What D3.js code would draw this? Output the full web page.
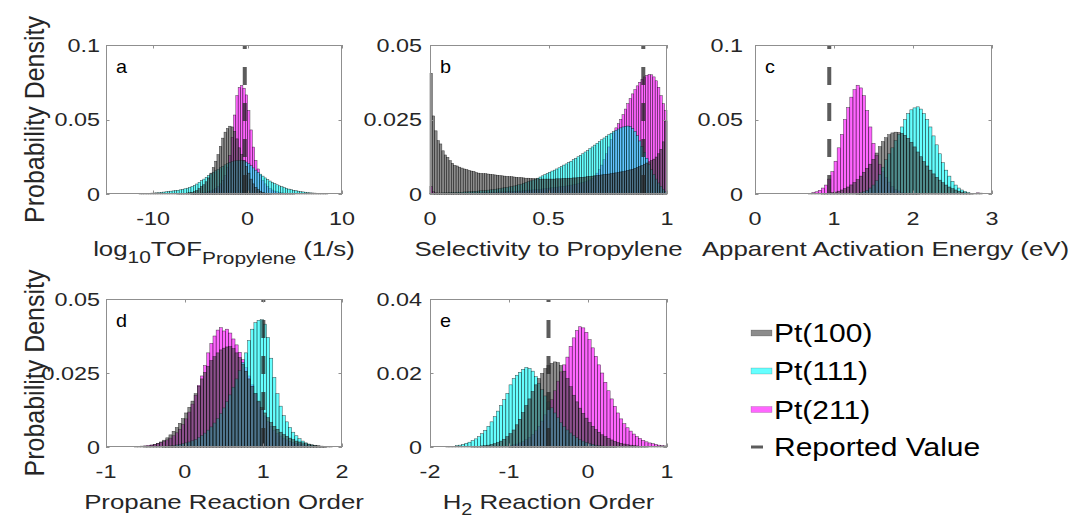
<!DOCTYPE html>
<html>
<head>
<meta charset="utf-8">
<script src="https://cdn.jsdelivr.net/npm/d3@7"></script>
<style>
  html, body { margin: 0; padding: 0; background: #fff; }
  svg { display: block; }
</style>
</head>
<body>
<svg id="fig" width="1073" height="521"></svg>
<script>
// ---------------- data ----------------
const seriesNames = ["Pt(100)", "Pt(111)", "Pt(211)"];
const reportedLabel = "Reported Value";
const panelLetters = ["a", "b", "c", "d", "e"];
const xDomains = [[-15, 10], [0, 1], [0, 3], [-1, 2], [-2, 1]];
const yMaxima = [0.1, 0.05, 0.1, 0.05, 0.04];
const xTickValues = [[-10, 0, 10], [0, 0.5, 1], [0, 1, 2, 3], [-1, 0, 1, 2], [-2, -1, 0, 1]];
const yTickValues = [[0, 0.05, 0.1], [0, 0.025, 0.05], [0, 0.05, 0.1], [0, 0.025, 0.05], [0, 0.02, 0.04]];
const reportedValues = [-0.3, 0.9, 0.94, 1.0, -0.5];

// (a) log10 TOF to propylene
const tofBinWidth = 0.25;
const tofPt100Start = -7.5;
const tofPt100 = [.0002,.0003,.0004,.0005,.0007,.0009,.0012,.0016,.0022,.0036,.0050,.0062,.0082,.0108,.0140,.0178,.0220,.0265,.0320,.0375,
  .0415,.0440,.0455,.0450,.0420,.0370,.0310,.0265,.0225,.0185,.0140,.0100,.0068,.0045,.0030,.0019,.0011,.0006,.0003,.0002];
const tofPt111Start = -11.5;
const tofPt111 = [.0002,.0003,.0003,.0004,.0005,.0006,.0007,.0008,.0009,.0011,.0013,.0015,.0017,.0019,.0021,.0023,.0025,.0028,.0031,.0035,
  .0039,.0044,.0050,.0058,.0067,.0078,.0089,.0100,.0112,.0124,.0135,.0146,.0156,.0166,.0176,.0186,.0196,.0205,.0212,.0218,
  .0222,.0225,.0226,.0226,.0222,.0214,.0203,.0190,.0175,.0160,.0146,.0133,.0120,.0108,.0097,.0087,.0078,.0070,.0062,.0055,
  .0049,.0043,.0038,.0033,.0029,.0025,.0022,.0019,.0016,.0014,.0012,.0010,.0008,.0007,.0006,.0005,.0004,.0003,.0002,.0002];
const tofPt211Start = -6.0;
const tofPt211 = [.0002,.0003,.0004,.0005,.0007,.0009,.0012,.0016,.0021,.0028,.0037,.0050,.0068,.0092,.0125,.0180,.0260,.0380,.0530,.0660,
  .0715,.0728,.0710,.0665,.0560,.0430,.0315,.0225,.0168,.0125,.0092,.0068,.0050,.0037,.0027,.0020,.0015,.0011,.0008,.0006,
  .0004,.0003,.0002,.0001];

// (b) selectivity to propylene
const selBinWidth = 0.01;
const selPt100Start = 0;
const selPt100 = [.0405,.0262,.0212,.0179,.0168,.0145,.0131,.0123,.0112,.0103,.0096,.0094,.0090,.0087,.0084,.0082,.0079,.0077,.0076,.0072,
  .0070,.0069,.0068,.0068,.0067,.0066,.0065,.0064,.0063,.0062,.0061,.0060,.0059,.0058,.0058,.0057,.0056,.0055,.0055,.0054,
  .0053,.0053,.0052,.0052,.0051,.0051,.0050,.0050,.0050,.0050,.0050,.0050,.0050,.0051,.0051,.0051,.0052,.0052,.0053,.0053,
  .0054,.0054,.0055,.0056,.0056,.0057,.0058,.0059,.0060,.0061,.0062,.0063,.0064,.0065,.0066,.0067,.0068,.0070,.0071,.0072,
  .0074,.0075,.0077,.0079,.0081,.0083,.0086,.0089,.0092,.0096,.0100,.0104,.0108,.0112,.0117,.0124,.0135,.0150,.0175,.0245];
const selPt111Start = 0;
const selPt111 = [.0002,.0002,.0003,.0003,.0003,.0004,.0004,.0004,.0005,.0005,.0005,.0006,.0006,.0006,.0007,.0007,.0008,.0008,.0009,.0009,
  .0010,.0011,.0011,.0012,.0013,.0014,.0015,.0016,.0017,.0018,.0020,.0021,.0022,.0024,.0025,.0027,.0029,.0031,.0033,.0036,
  .0039,.0042,.0044,.0047,.0050,.0053,.0057,.0061,.0065,.0069,.0073,.0077,.0080,.0084,.0088,.0092,.0097,.0101,.0106,.0110,
  .0115,.0120,.0125,.0130,.0135,.0141,.0146,.0152,.0158,.0164,.0170,.0176,.0182,.0188,.0194,.0199,.0204,.0209,.0214,.0218,
  .0222,.0225,.0227,.0228,.0226,.0220,.0210,.0196,.0178,.0160,.0140,.0120,.0100,.0082,.0065,.0050,.0037,.0026,.0016,.0008];
const selPt211Start = 0;
const selPt211 = [.0025,.0008,.0004,.0003,.0003,.0003,.0003,.0003,.0003,.0003,.0003,.0003,.0003,.0003,.0003,.0003,.0004,.0004,.0004,.0004,
  .0004,.0004,.0005,.0005,.0005,.0005,.0006,.0006,.0006,.0007,.0007,.0007,.0008,.0008,.0008,.0009,.0009,.0010,.0010,.0011,
  .0012,.0013,.0013,.0014,.0015,.0015,.0016,.0017,.0018,.0019,.0020,.0021,.0022,.0023,.0024,.0025,.0026,.0027,.0028,.0030,
  .0031,.0033,.0035,.0037,.0039,.0041,.0044,.0047,.0052,.0060,.0070,.0082,.0097,.0115,.0135,.0158,.0183,.0205,.0222,.0236,
  .0250,.0266,.0285,.0303,.0320,.0336,.0350,.0363,.0375,.0385,.0393,.0398,.0401,.0400,.0393,.0380,.0358,.0330,.0303,.0280];

// (c) apparent activation energy, eV
const eaBinWidth = 0.04;
const eaPt100Start = 0.84;
const eaPt100 = [.0002,.0004,.0006,.0009,.0013,.0019,.0027,.0036,.0047,.0061,.0077,.0097,.0120,.0146,.0172,.0200,.0232,.0275,.0318,.0352,
  .0378,.0398,.0410,.0415,.0413,.0407,.0394,.0374,.0347,.0316,.0282,.0250,.0218,.0188,.0160,.0135,.0112,.0093,.0076,.0060,
  .0047,.0036,.0027,.0019,.0013,.0008,.0004,.0002];
const eaPt111Start = 1.28;
const eaPt111 = [.0005,.0010,.0015,.0025,.0040,.0060,.0090,.0130,.0180,.0230,.0270,.0310,.0360,.0400,.0450,.0500,.0540,.0565,.0578,.0585,
  .0570,.0540,.0500,.0450,.0390,.0330,.0270,.0210,.0160,.0120,.0085,.0060,.0040,.0027,.0017,.0010,.0005,.0002];
const eaPt211Start = 0.68;
const eaPt211 = [.0005,.0010,.0015,.0025,.0040,.0060,.0100,.0150,.0220,.0310,.0400,.0500,.0580,.0650,.0700,.0730,.0712,.0660,.0560,.0450,
  .0340,.0260,.0200,.0150,.0110,.0080,.0050,.0030,.0020,.0010,.0007,.0004,.0002,.0001,.0001,0,0,0,0,0,
  0,0,0,0,0,0,0,0,0,0,0,0,0,.0008,.0006];

// (d) propane reaction order
const c3BinWidth = 0.04;
const c3Pt100Start = -0.52;
const c3Pt100 = [.0002,.0003,.0005,.0008,.0012,.0017,.0023,.0031,.0041,.0053,.0066,.0080,.0096,.0115,.0134,.0155,.0180,.0205,.0230,.0252,
  .0272,.0292,.0305,.0318,.0328,.0334,.0338,.0339,.0332,.0318,.0302,.0280,.0256,.0230,.0205,.0180,.0155,.0133,.0115,.0099,
  .0083,.0070,.0060,.0050,.0042,.0036,.0030,.0025,.0020,.0017,.0014,.0011,.0009,.0007,.0006,.0004,.0003,.0002];
const c3Pt111Start = -0.28;
const c3Pt111 = [.0002,.0003,.0004,.0005,.0007,.0009,.0011,.0014,.0017,.0021,.0026,.0032,.0039,.0047,.0057,.0068,.0081,.0096,.0113,.0132,
  .0153,.0176,.0202,.0230,.0258,.0285,.0318,.0360,.0398,.0420,.0428,.0430,.0415,.0370,.0300,.0235,.0180,.0138,.0106,.0085,
  .0066,.0050,.0038,.0028,.0020,.0014,.0010,.0007,.0005,.0003,.0002,.0001];
const c3Pt211Start = -0.64;
const c3Pt211 = [.0002,.0002,.0003,.0004,.0005,.0007,.0009,.0012,.0015,.0019,.0024,.0030,.0038,.0048,.0060,.0076,.0095,.0118,.0145,.0175,
  .0208,.0240,.0275,.0318,.0350,.0375,.0395,.0403,.0392,.0398,.0385,.0365,.0345,.0320,.0295,.0268,.0240,.0210,.0180,.0152,
  .0127,.0105,.0086,.0070,.0057,.0046,.0037,.0030,.0024,.0019,.0015,.0012,.0010,.0008,.0006,.0005,.0004,.0003,.0003,.0002,
  .0002,.0001,.0001];

// (e) H2 reaction order
const h2BinWidth = 0.04;
const h2Pt100Start = -1.48;
const h2Pt100 = [.0001,.0002,.0002,.0003,.0004,.0005,.0007,.0009,.0012,.0016,.0021,.0028,.0036,.0046,.0060,.0075,.0093,.0112,.0130,.0150,
  .0168,.0185,.0199,.0212,.0220,.0226,.0230,.0228,.0220,.0205,.0185,.0163,.0140,.0122,.0105,.0091,.0078,.0066,.0056,.0047,
  .0040,.0033,.0028,.0023,.0019,.0015,.0012,.0010,.0008,.0006,.0005,.0004,.0003,.0002,.0002,.0001];
const h2Pt111Start = -1.80;
const h2Pt111 = [.0001,.0002,.0002,.0004,.0005,.0007,.0010,.0013,.0017,.0022,.0028,.0036,.0045,.0056,.0068,.0082,.0097,.0112,.0128,.0145,
  .0168,.0185,.0194,.0202,.0210,.0215,.0212,.0205,.0190,.0172,.0155,.0138,.0122,.0106,.0092,.0079,.0066,.0055,.0046,.0038,
  .0031,.0025,.0020,.0016,.0012,.0009,.0007,.0005,.0004,.0003,.0002,.0002,.0001,.0001];
const h2Pt211Start = -1.00;
const h2Pt211 = [.0004,.0006,.0008,.0011,.0015,.0020,.0026,.0034,.0044,.0056,.0070,.0087,.0106,.0128,.0152,.0178,.0203,.0222,.0243,.0272,
  .0295,.0315,.0325,.0322,.0310,.0290,.0268,.0245,.0222,.0200,.0175,.0152,.0130,.0110,.0092,.0076,.0063,.0052,.0043,.0035,
  .0028,.0023,.0018,.0014,.0011,.0009,.0007,.0005,.0004,.0003];

// ---------------- figure setup ----------------
const histograms = [
  { width: tofBinWidth, series: [[tofPt100Start, tofPt100], [tofPt111Start, tofPt111], [tofPt211Start, tofPt211]] },
  { width: selBinWidth, series: [[selPt100Start, selPt100], [selPt111Start, selPt111], [selPt211Start, selPt211]] },
  { width: eaBinWidth,  series: [[eaPt100Start, eaPt100],   [eaPt111Start, eaPt111],   [eaPt211Start, eaPt211]] },
  { width: c3BinWidth,  series: [[c3Pt100Start, c3Pt100],   [c3Pt111Start, c3Pt111],   [c3Pt211Start, c3Pt211]] },
  { width: h2BinWidth,  series: [[h2Pt100Start, h2Pt100],   [h2Pt111Start, h2Pt111],   [h2Pt211Start, h2Pt211]] }
];

const FONT = "'Liberation Sans', Arial, Helvetica, sans-serif";
const TEXT = "#262626";
const AXIS = "#8f8f8f";
const faceColors = ["#404040", "#00ffff", "#ff00ff"];
const faceAlpha = 0.6;
const drawOrder = [2, 1, 0];          // Pt(211) first, Pt(100) on top
const SX = 1.23;                      // horizontal glyph stretch of the figure text

// plot boxes: [left, top, right, bottom]
const boxes = [[106, 45, 342, 194], [430, 45, 667, 194], [755, 45, 992, 194],
               [106, 299, 342, 447], [430, 299, 667, 447]];
const yTickGap = [6, 8, 12, 6, 8];
const xLabelShift = [0, 0, 12, 0, 0];

const svg = d3.select("#fig").attr("font-family", FONT);

function addText(parent, x, y, str, size, anchor, sx, fill) {
  return parent.append("text")
    .attr("transform", `translate(${x},${y}) scale(${sx},1)`)
    .attr("text-anchor", anchor)
    .attr("font-size", size)
    .attr("fill", fill || TEXT)
    .text(str);
}

panelLetters.forEach((letter, p) => {
  const [L, T, R, B] = boxes[p];
  const x = d3.scaleLinear().domain(xDomains[p]).range([L, R]);
  const y = d3.scaleLinear().domain([0, yMaxima[p]]).range([B, T]);
  const g = svg.append("g");

  // histogram bars
  const h = histograms[p];
  drawOrder.forEach(s => {
    const [start, values] = h.series[s];
    const bins = values.map((v, i) => ({ x0: start + i * h.width, x1: start + (i + 1) * h.width, v }))
                       .filter(d => d.v > 0);
    g.append("g").selectAll("rect").data(bins).join("rect")
      .attr("x", d => x(d.x0))
      .attr("width", d => x(d.x1) - x(d.x0))
      .attr("y", d => y(d.v))
      .attr("height", d => y(0) - y(d.v))
      .attr("fill", faceColors[s])
      .attr("fill-opacity", faceAlpha)
      .attr("stroke", "#000")
      .attr("stroke-opacity", 0.7)
      .attr("stroke-width", 0.5);
  });

  // reported value
  g.append("line")
    .attr("x1", x(reportedValues[p])).attr("x2", x(reportedValues[p]))
    .attr("y1", B).attr("y2", T)
    .attr("stroke", "#262626").attr("stroke-opacity", 0.75)
    .attr("stroke-width", 4)
    .attr("stroke-dasharray", "18,18").attr("stroke-dashoffset", 35);

  // axes box
  g.append("rect").attr("x", L + 0.5).attr("y", T + 0.5)
    .attr("width", R - L - 1).attr("height", B - T - 1)
    .attr("fill", "none").attr("stroke", AXIS).attr("stroke-width", 1);

  // ticks (inward, mirrored)
  const tl = 3.5;
  xTickValues[p].forEach(t => {
    const xt = Math.round(x(t)) + 0.5;
    g.append("line").attr("x1", xt).attr("x2", xt).attr("y1", B).attr("y2", B - tl).attr("stroke", AXIS);
    g.append("line").attr("x1", xt).attr("x2", xt).attr("y1", T).attr("y2", T + tl).attr("stroke", AXIS);
    addText(g, x(t), B + 31, String(t), 19, "middle", SX);
  });
  yTickValues[p].forEach(t => {
    const yt = Math.round(y(t)) + 0.5;
    g.append("line").attr("x1", L).attr("x2", L + tl).attr("y1", yt).attr("y2", yt).attr("stroke", AXIS);
    g.append("line").attr("x1", R).attr("x2", R - tl).attr("y1", yt).attr("y2", yt).attr("stroke", AXIS);
    addText(g, L - yTickGap[p], y(t), String(t), 19, "end", SX).attr("dy", "0.35em");
  });

  // panel letter
  addText(g, L + 10, T + 28, letter, 18, "start", 1.1, "#000");
});

// axis labels
const labelSize = 21;
(function () {
  const [L, , R, B] = boxes[0];
  const t = svg.append("text")
    .attr("transform", `translate(${(L + R) / 2},${B + 62}) scale(${SX},1)`)
    .attr("text-anchor", "middle").attr("font-size", labelSize).attr("fill", TEXT);
  t.append("tspan").text("log");
  t.append("tspan").attr("font-size", 17).attr("dy", 7).text("10");
  t.append("tspan").attr("dy", -7).text("TOF");
  t.append("tspan").attr("font-size", 17).attr("dy", 8).text("Propylene");
  t.append("tspan").attr("dy", -8).text(" (1/s)");
})();
[[1, "Selectivity to Propylene"], [2, "Apparent Activation Energy (eV)"], [3, "Propane Reaction Order"]]
  .forEach(([p, str]) => {
    const [L, , R, B] = boxes[p];
    addText(svg, (L + R) / 2 + xLabelShift[p], B + 62, str, labelSize, "middle", SX);
  });
(function () {
  const [L, , R, B] = boxes[4];
  const t = svg.append("text")
    .attr("transform", `translate(${(L + R) / 2},${B + 62}) scale(${SX},1)`)
    .attr("text-anchor", "middle").attr("font-size", labelSize).attr("fill", TEXT);
  t.append("tspan").text("H");
  t.append("tspan").attr("font-size", 16).attr("dy", 6).text("2");
  t.append("tspan").attr("dy", -6).text(" Reaction Order");
})();
[0, 3].forEach(p => {
  const [, T, , B] = boxes[p];
  svg.append("text")
    .attr("transform", `translate(44,${(T + B) / 2}) rotate(-90) scale(1,1.1)`)
    .attr("text-anchor", "middle").attr("font-size", 25).attr("fill", TEXT)
    .text("Probability Density");
});

// legend
const legend = svg.append("g");
const rowY = [333, 371, 409.5];
seriesNames.forEach((name, s) => {
  legend.append("rect").attr("x", 751).attr("y", rowY[s] - 3).attr("width", 21).attr("height", 6)
    .attr("fill", faceColors[s]).attr("fill-opacity", faceAlpha)
    .attr("stroke", "#000").attr("stroke-opacity", 0.3).attr("stroke-width", 0.5);
  addText(legend, 774, rowY[s] + 9, name, 25, "start", 1.2, "#000");
});
legend.append("line").attr("x1", 751).attr("x2", 763).attr("y1", 447).attr("y2", 447)
  .attr("stroke", "#262626").attr("stroke-opacity", 0.75).attr("stroke-width", 3);
addText(legend, 774, 456, reportedLabel, 25, "start", 1.2, "#000");
</script>
</body>
</html>
